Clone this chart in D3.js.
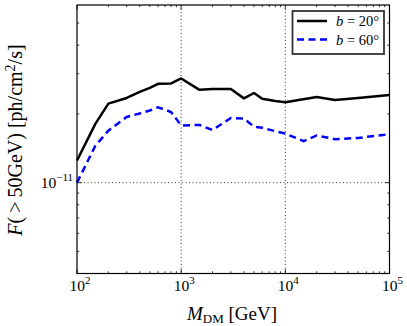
<!doctype html>
<html>
<head>
<meta charset="utf-8">
<script src="https://cdn.jsdelivr.net/npm/d3@7"></script>
<style>
  html, body { margin: 0; padding: 0; background: #fff; }
  svg { display: block; font-family: "Liberation Serif", "DejaVu Serif", serif; }
</style>
</head>
<body>
<svg id="chart" width="407" height="326"></svg>
<script>
  // masses in GeV
  var masses = [100, 150, 200, 300, 400, 500, 600, 800, 1000, 1500, 2000, 3000,
                4000, 5000, 6000, 8000, 10000, 20000, 30000, 50000, 100000];
  // flux above 50 GeV, units of 1e-11 ph/cm2/s
  var fluxB20 = [1.25, 1.81, 2.22, 2.35, 2.50, 2.60, 2.71, 2.72, 2.86, 2.55, 2.57, 2.57,
                 2.34, 2.47, 2.33, 2.28, 2.25, 2.37, 2.30, 2.35, 2.42];
  var massesB60 = [100, 150, 200, 300, 400, 500, 600, 800, 1000, 1500, 2000, 3000,
                   4000, 5000, 6000, 8000, 10000, 15000, 20000, 30000, 50000, 100000];
  var fluxB60 = [1.00, 1.45, 1.69, 1.94, 2.01, 2.07, 2.14, 2.04, 1.78, 1.79, 1.70, 1.92,
                 1.91, 1.76, 1.74, 1.68, 1.64, 1.52, 1.61, 1.55, 1.57, 1.63];
  var xMajor = [100, 1000, 10000, 100000];
  var xExp = ["2", "3", "4", "5"];
  var yMajor = [1e-11];
  var yExp = ["\u221211"];

  (function () {
    var pLeft = 77, pRight = 389.5, pTop = 5, pBottom = 273.5;
    var svg = d3.select("#chart");

    var x = d3.scaleLog().domain([100, 100000]).range([pLeft, pRight]);
    var y = d3.scaleLog().domain([4e-12, 6e-11]).range([pBottom, pTop]);

    function minors(lo, hi) {
      var out = [];
      for (var e = Math.floor(Math.log10(lo)) - 1; e <= Math.ceil(Math.log10(hi)); e++) {
        for (var m = 2; m <= 9; m++) {
          var v = m * Math.pow(10, e);
          if (v > lo * 1.0001 && v < hi * 0.9999) out.push(v);
        }
      }
      return out;
    }

    // grid
    var grid = svg.append("g").attr("stroke", "#000").attr("stroke-width", 0.8)
      .attr("stroke-dasharray", "1,2.5");
    grid.selectAll("line.gx").data(xMajor.slice(1, 3)).enter().append("line")
      .attr("x1", function (d) { return x(d); }).attr("x2", function (d) { return x(d); })
      .attr("y1", pTop).attr("y2", pBottom);
    grid.selectAll("line.gy").data(yMajor).enter().append("line")
      .attr("y1", function (d) { return y(d); }).attr("y2", function (d) { return y(d); })
      .attr("x1", pLeft).attr("x2", pRight);

    // ticks (inside, all four sides)
    var ticks = svg.append("g").attr("stroke", "#000").attr("stroke-width", 0.8);
    function xTick(v, len) {
      ticks.append("line").attr("x1", x(v)).attr("x2", x(v)).attr("y1", pBottom).attr("y2", pBottom - len);
      ticks.append("line").attr("x1", x(v)).attr("x2", x(v)).attr("y1", pTop).attr("y2", pTop + len);
    }
    function yTick(v, len) {
      ticks.append("line").attr("y1", y(v)).attr("y2", y(v)).attr("x1", pLeft).attr("x2", pLeft + len);
      ticks.append("line").attr("y1", y(v)).attr("y2", y(v)).attr("x1", pRight).attr("x2", pRight - len);
    }
    xMajor.forEach(function (v) { xTick(v, 4.5); });
    minors(100, 100000).forEach(function (v) { xTick(v, 2.2); });
    yMajor.forEach(function (v) { yTick(v, 4.5); });
    minors(4e-12, 6e-11).forEach(function (v) { yTick(v, 2.2); });

    // lines
    var line = d3.line()
      .x(function (d) { return x(d[0]); })
      .y(function (d) { return y(d[1] * 1e-11); });

    svg.append("path")
      .datum(d3.zip(massesB60, fluxB60))
      .attr("d", line).attr("fill", "none").attr("stroke", "#0000ff")
      .attr("stroke-width", 2.5).attr("stroke-dasharray", "7,4.5");

    svg.append("path")
      .datum(d3.zip(masses, fluxB20))
      .attr("d", line).attr("fill", "none").attr("stroke", "#000")
      .attr("stroke-width", 2.5).attr("stroke-linejoin", "round");

    // frame
    svg.append("rect").attr("x", pLeft).attr("y", pTop)
      .attr("width", pRight - pLeft).attr("height", pBottom - pTop)
      .attr("fill", "none").attr("stroke", "#000").attr("stroke-width", 1.2);

    // tick labels
    var tl = svg.append("g").attr("font-size", 15.5).attr("fill", "#000");
    xMajor.forEach(function (v, i) {
      var t = tl.append("text").attr("x", x(v) + 3).attr("y", 291).attr("text-anchor", "middle");
      t.append("tspan").text("10");
      t.append("tspan").attr("dy", -7).attr("font-size", 11).text(xExp[i]);
    });
    yMajor.forEach(function (v, i) {
      var t = tl.append("text").attr("x", pLeft - 4).attr("y", y(v) + 5).attr("text-anchor", "end");
      t.append("tspan").text("10");
      t.append("tspan").attr("dy", -7).attr("font-size", 11).text(yExp[i]);
    });

    // axis labels
    var xt = svg.append("text").attr("x", 232).attr("y", 320).attr("text-anchor", "middle")
      .attr("font-size", 19);
    xt.append("tspan").attr("font-style", "italic").text("M");
    xt.append("tspan").attr("font-size", 13).attr("dy", 3).text("DM");
    xt.append("tspan").attr("dy", -3).text(" [GeV]");

    var yt = svg.append("text").attr("transform", "translate(22,140) rotate(-90)")
      .attr("text-anchor", "middle").attr("font-size", 20);
    yt.append("tspan").attr("font-style", "italic").text("F");
    yt.append("tspan").text("(\u2009>\u200950GeV) [ph/cm");
    yt.append("tspan").attr("dy", -7).attr("font-size", 14).text("2");
    yt.append("tspan").attr("dy", 7).text("/s]");

    // legend
    var lg = svg.append("g");
    lg.append("rect").attr("x", 292.5).attr("y", 11).attr("width", 91.5).attr("height", 43)
      .attr("fill", "#fff").attr("stroke", "#333").attr("stroke-width", 1.8);
    var entries = [
      { label: "20\u00b0", color: "#000", dash: null },
      { label: "60\u00b0", color: "#0000ff", dash: "7,4.5" }
    ];
    entries.forEach(function (e, i) {
      var yy = 21 + i * 18.5;
      lg.append("line").attr("x1", 297).attr("x2", 327).attr("y1", yy).attr("y2", yy)
        .attr("stroke", e.color).attr("stroke-width", 2.5).attr("stroke-dasharray", e.dash);
      var t = lg.append("text").attr("x", 336).attr("y", yy + 5).attr("font-size", 14.5);
      t.append("tspan").attr("font-style", "italic").text("b");
      t.append("tspan").text(" = " + e.label);
    });
  })();
</script>
</body>
</html>
